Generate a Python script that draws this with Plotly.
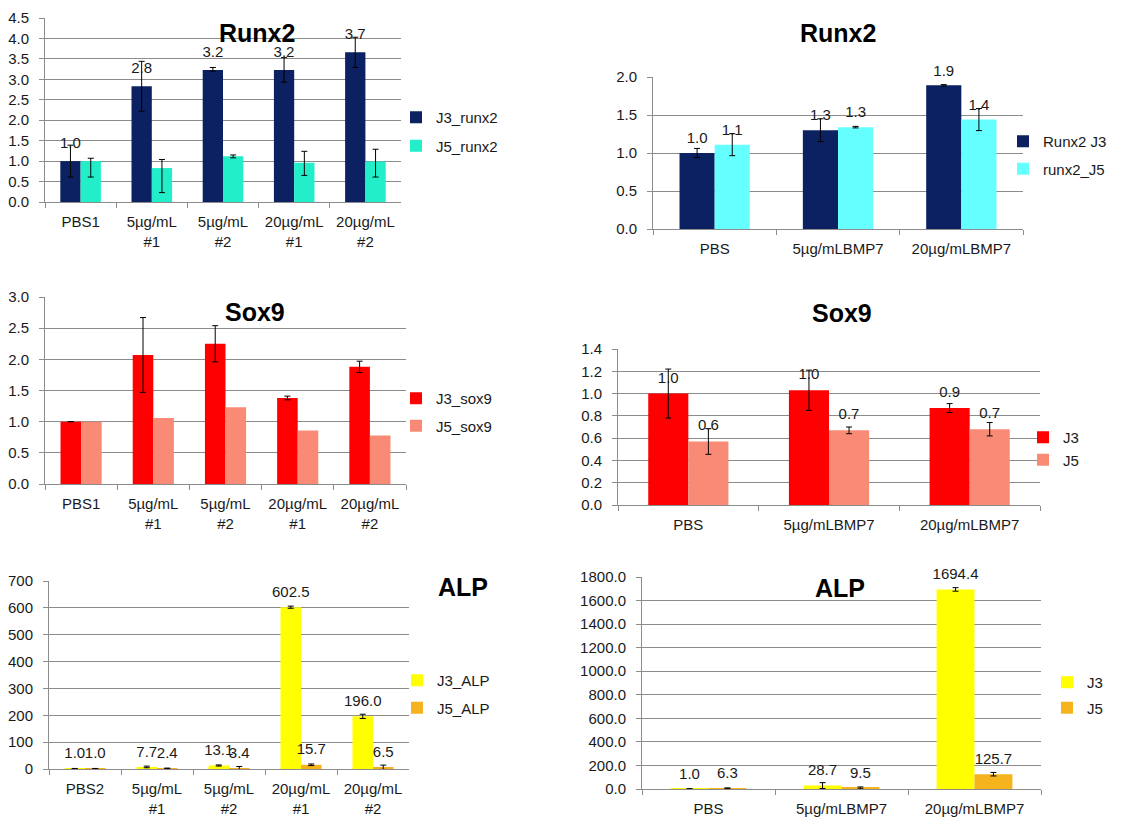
import plotly.graph_objects as go

W, H = 1137, 817
OFF = 8  # page body margin of the html page

# ---------------- data ----------------
cats_a = ["PBS1", "5µg/mL<br>#1", "5µg/mL<br>#2", "20µg/mL<br>#1", "20µg/mL<br>#2"]
cats_alp_a = ["PBS2", "5µg/mL<br>#1", "5µg/mL<br>#2", "20µg/mL<br>#1", "20µg/mL<br>#2"]
cats_b = ["PBS", "5µg/mLBMP7", "20µg/mLBMP7"]

# Panel 1: Runx2 (left)
runx2_j3 = [1.0, 2.83, 3.23, 3.23, 3.66]
runx2_j3_err_p = [0.39, 0.61, 0.06, 0.30, 0.37]
runx2_j3_err_m = [0.39, 0.61, 0.03, 0.30, 0.37]
runx2_j5 = [1.0, 0.83, 1.12, 0.96, 0.99]
runx2_j5_err_p = [0.07, 0.21, 0.03, 0.28, 0.30]
runx2_j5_err_m = [0.39, 0.60, 0.04, 0.31, 0.38]

# Panel 2: Runx2 (right)
runx2b_j3 = [1.0, 1.30, 1.89]
runx2b_j3_err = [0.06, 0.15, 0.01]
runx2b_j5 = [1.11, 1.34, 1.44]
runx2b_j5_err = [0.145, 0.01, 0.145]

# Panel 3: Sox9 (left)
sox9_j3 = [1.0, 2.07, 2.25, 1.38, 1.88]
sox9_j3_err = [None, 0.60, 0.29, 0.03, 0.09]
sox9_j5 = [1.0, 1.06, 1.23, 0.86, 0.78]

# Panel 4: Sox9 (right)
sox9b_j3 = [1.0, 1.03, 0.87]
sox9b_j3_err = [0.22, 0.18, 0.04]
sox9b_j5 = [0.57, 0.67, 0.68]
sox9b_j5_err = [0.115, 0.03, 0.06]

# Panel 5: ALP (left)
alp_j3 = [1.0, 7.7, 13.1, 602.5, 196.0]
alp_j3_err = [1, 3, 2, 4, 8]
alp_j5 = [1.0, 2.4, 3.4, 15.7, 6.5]
alp_j5_err = [1, 1, 6, 3, 8]

# Panel 6: ALP (right)
alpb_j3 = [1.0, 28.7, 1694.4]
alpb_j3_err = [2, 25, 15]
alpb_j5 = [6.3, 9.5, 125.7]
alpb_j5_err = [3, 8, 15]

NAVY = "#0B2161"
TEAL = "#22EEC9"
CYAN = "#66FFFF"
RED = "#FF0000"
SALMON = "#F98B76"
YELLOW = "#FFFF00"
ORANGE = "#F5B41E"
GRID = "#8C8C8C"
TXT = "#1a1a1a"
FONT = "Liberation Sans, Arial, sans-serif"
FS = 15


def px(x):
    return (x - OFF) / W


def py(y):
    return 1 - (y - OFF) / H


fig = go.Figure()

# spacing (marker size) between bar top and its value label, per panel
LABEL_PAD = {"": 13, "2": 8, "3": 8, "4": 10, "5": 9, "6": 9}


def add_bar(x, y, name, color, ax, leg, ep=None, em=None):
    kw = dict(
        x=x, y=y, name=name, marker=dict(color=color, line=dict(width=0)),
        xaxis="x" + ax, yaxis="y" + ax, legend=leg, legendgroup=name + ax,
        cliponaxis=False, offsetgroup=name + ax,
    )
    if ep is not None:
        kw["error_y"] = dict(type="data", array=ep, arrayminus=em if em is not None else ep,
                             symmetric=em is None, color="#000000", thickness=1, width=3)
    fig.add_trace(go.Bar(**kw))


def add_labels(x, y, name, ax, show=True):
    fig.add_trace(go.Scatter(
        x=x, y=y, mode="markers+text", name=name, showlegend=False,
        xaxis="x" + ax, yaxis="y" + ax, offsetgroup=name + ax,
        texttemplate="%{y:.1f}" if show else " ", textposition="top center",
        textfont=dict(size=FS, color=TXT, family=FONT),
        marker=dict(size=LABEL_PAD[ax], opacity=0, color="white"),
        cliponaxis=False, hoverinfo="skip",
    ))


add_bar(cats_a, runx2_j3, "J3_runx2", NAVY, "", "legend", runx2_j3_err_p, runx2_j3_err_m)
add_bar(cats_a, runx2_j5, "J5_runx2", TEAL, "", "legend", runx2_j5_err_p, runx2_j5_err_m)
add_labels(cats_a, runx2_j3, "J3_runx2", "")
add_labels(cats_a, runx2_j5, "J5_runx2", "", show=False)

add_bar(cats_b, runx2b_j3, "Runx2 J3", NAVY, "2", "legend2", runx2b_j3_err)
add_bar(cats_b, runx2b_j5, "runx2_J5", CYAN, "2", "legend2", runx2b_j5_err)
add_labels(cats_b, runx2b_j3, "Runx2 J3", "2")
add_labels(cats_b, runx2b_j5, "runx2_J5", "2")

add_bar(cats_a, sox9_j3, "J3_sox9", RED, "3", "legend3", sox9_j3_err)
add_bar(cats_a, sox9_j5, "J5_sox9", SALMON, "3", "legend3")

add_bar(cats_b, sox9b_j3, "J3", RED, "4", "legend4", sox9b_j3_err)
add_bar(cats_b, sox9b_j5, "J5", SALMON, "4", "legend4", sox9b_j5_err)
add_labels(cats_b, sox9b_j3, "J3", "4")
add_labels(cats_b, sox9b_j5, "J5", "4")

add_bar(cats_alp_a, alp_j3, "J3_ALP", YELLOW, "5", "legend5", alp_j3_err)
add_bar(cats_alp_a, alp_j5, "J5_ALP", ORANGE, "5", "legend5", alp_j5_err)
add_labels(cats_alp_a, alp_j3, "J3_ALP", "5")
add_labels(cats_alp_a, alp_j5, "J5_ALP", "5")

add_bar(cats_b, alpb_j3, "J3", YELLOW, "6", "legend6", alpb_j3_err)
add_bar(cats_b, alpb_j5, "J5", ORANGE, "6", "legend6", alpb_j5_err)
add_labels(cats_b, alpb_j3, "J3", "6")
add_labels(cats_b, alpb_j5, "J5", "6")

# ---------------- layout ----------------
# plot areas in page pixels: (x0, x1, ytop, ybottom)
areas = {
    "": (45, 401, 18, 202),
    "2": (653, 1023, 77, 229),
    "3": (45, 406, 297, 484),
    "4": (618, 1040, 349, 505),
    "5": (49, 409, 581, 769),
    "6": (642, 1041, 577, 789),
}
yranges = {"": (4.5, 0.5, ".1f"), "2": (2.0, 0.5, ".1f"), "3": (3.0, 0.5, ".1f"),
           "4": (1.4, 0.2, ".1f"), "5": (700, 100, "d"), "6": (1800, 200, ".1f")}

layout = dict(
    width=W, height=H, margin=dict(l=0, r=0, t=0, b=0, autoexpand=False),
    paper_bgcolor="white", plot_bgcolor="white",
    barmode="group", bargap=0.43, bargroupgap=0,
    scattermode="group", scattergap=0.43,
    font=dict(family=FONT, size=FS, color=TXT),
    showlegend=True,
)

for k, (x0, x1, yt, yb) in areas.items():
    top, dt, fmt = yranges[k]
    layout["xaxis" + k] = dict(
        domain=[px(x0), px(x1)], anchor="y" + k, type="category", automargin=False,
        showline=True, linecolor=GRID, linewidth=1, ticks="outside", tickson="boundaries",
        ticklen=5, tickcolor=GRID, showgrid=False, tickfont=dict(size=FS, color=TXT),
        ticklabelstandoff=6, fixedrange=True,
    )
    layout["yaxis" + k] = dict(
        domain=[py(yb), py(yt)], anchor="x" + k, range=[0, top], dtick=dt,
        automargin=False,
        tickformat=fmt, showline=True, linecolor=GRID, linewidth=1, ticks="outside",
        ticklen=5, tickcolor=GRID, showgrid=True, gridcolor=GRID, gridwidth=1,
        zeroline=False, tickfont=dict(size=FS, color=TXT), ticklabelstandoff=7,
        fixedrange=True,
    )

# legends: (text x start px, first item center y px, item spacing px)
legpos = {
    "legend": (436, 117, 29), "legend2": (1043, 141, 28), "legend3": (436, 398, 28),
    "legend4": (1063, 437, 22), "legend5": (437, 680, 28), "legend6": (1087, 682, 26),
}
for lk, (lx, ly, sp) in legpos.items():
    layout[lk] = dict(
        x=px(lx - 40), y=py(ly - 16), xanchor="left", yanchor="top",
        bgcolor="rgba(0,0,0,0)", font=dict(size=FS, color=TXT, family=FONT),
        itemwidth=30, tracegroupgap=max(sp - 23, 0), traceorder="grouped",
    )

titles = [("Runx2", 257, 33), ("Runx2", 838, 33), ("Sox9", 255, 312),
          ("Sox9", 842, 313), ("ALP", 463, 587), ("ALP", 840, 588)]
layout["annotations"] = [
    dict(text="<b>%s</b>" % t, x=px(tx), y=py(ty), xref="paper", yref="paper",
         xanchor="center", yanchor="middle", showarrow=False,
         font=dict(size=25, color="#000000", family=FONT))
    for t, tx, ty in titles
]

fig.update_layout(**layout)
fig.write_html("out.html")
